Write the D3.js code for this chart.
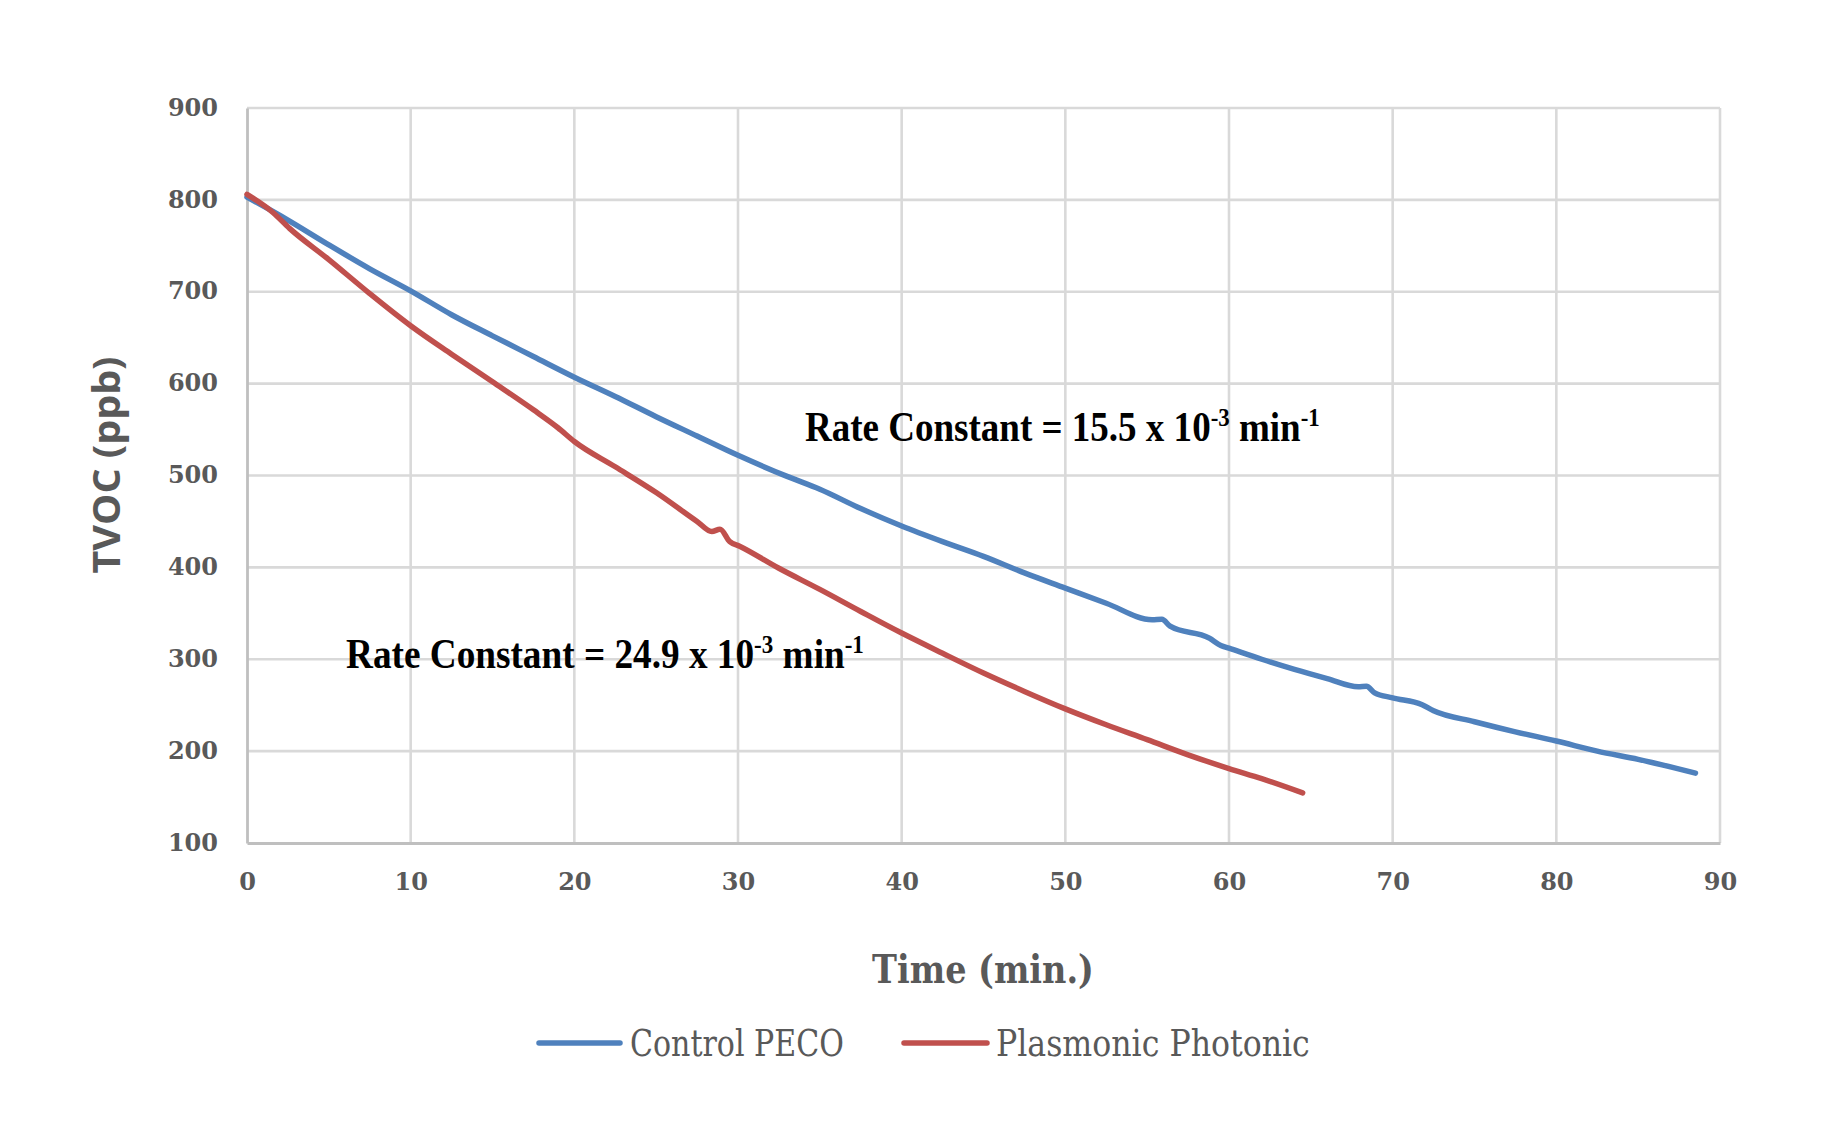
<!DOCTYPE html>
<html>
<head>
<meta charset="utf-8">
<script src="https://cdn.jsdelivr.net/npm/d3@7"></script>
<style>
  html, body { margin: 0; padding: 0; background: #fff; }
  svg { display: block; }
</style>
</head>
<body>
<svg id="chart" width="1846" height="1143"></svg>
<script>
// ---- data ----
const timeTicks = [0, 10, 20, 30, 40, 50, 60, 70, 80, 90];
const tvocTicks = [100, 200, 300, 400, 500, 600, 700, 800, 900];

const seriesNames = ["Control PECO", "Plasmonic Photonic"];
const seriesColors = ["#4F81BD", "#C0504D"];

const controlTime = [0, 2.5, 5, 7.5, 10, 12.5, 15, 17.5, 20, 22.5, 25, 27.5, 30, 33, 35, 37.5, 40, 42.5, 45, 47.5, 50, 52.5, 55.3, 55.9, 56.4, 58.8, 59.5, 60, 62, 64, 66, 67.9, 68.4, 68.9, 70, 71.8, 72.5, 75, 77.5, 80, 82.5, 85, 88.5];
const controlTVOC = [803, 778, 751, 725, 701, 675, 652, 629.5, 607, 586, 564, 543, 522, 499, 485, 464, 445, 428, 412, 394, 377.5, 361, 343, 343.5, 336, 323, 315, 312, 300, 289, 279, 270, 270.5, 263.5, 258, 250.5, 244, 232, 221, 211, 200, 191, 176];

const plasmonicTime = [0, 1.6, 2.6, 5, 7.5, 10, 12.5, 15, 17.5, 19, 20, 22.5, 25, 27.5, 28.4, 28.9, 29.5, 30.1, 32.5, 35, 37.5, 40, 42.5, 45, 47.5, 50, 52.5, 55, 57.5, 60, 62, 64.5];
const plasmonicTVOC = [806, 786, 769, 735, 698, 663, 632, 602, 571.5, 552, 537, 509.5, 481.5, 450, 439, 441.5, 428, 423, 399, 376, 352, 328.5, 306.5, 285, 265, 246, 228.7, 212.5, 196, 181, 170, 154.5];

const xTitle = "Time (min.)";
const yTitle = "TVOC (ppb)";
const rateLabels = [
  { main: "Rate Constant = 15.5 x 10", exp1: "-3", unit: " min", exp2: "-1" },
  { main: "Rate Constant = 24.9 x 10", exp1: "-3", unit: " min", exp2: "-1" }
];

// ---- layout ----
const svg = d3.select("#chart");
const plot = { left: 247, right: 1720, top: 108, bottom: 843 };
const x = d3.scaleLinear().domain([0, 90]).range([plot.left, plot.right]);
const y = d3.scaleLinear().domain([100, 900]).range([plot.bottom, plot.top]);

const gray = "#595959";
const serifBold = "'DejaVu Serif', serif";

// gridlines
const grid = svg.append("g");
grid.selectAll("line.v").data(timeTicks.filter(d => d > 0)).join("line")
  .attr("x1", d => x(d)).attr("x2", d => x(d))
  .attr("y1", plot.top).attr("y2", plot.bottom)
  .attr("stroke", "#d9d9d9").attr("stroke-width", 2.6);
grid.selectAll("line.h").data(tvocTicks.filter(d => d > 100)).join("line")
  .attr("x1", plot.left).attr("x2", plot.right)
  .attr("y1", d => y(d)).attr("y2", d => y(d))
  .attr("stroke", "#d9d9d9").attr("stroke-width", 2.6);

// axes
const xAxis = d3.axisBottom(x).tickValues(timeTicks).tickSize(0).tickPadding(0).tickFormat(d3.format("d"));
const yAxis = d3.axisLeft(y).tickValues(tvocTicks).tickSize(0).tickPadding(0).tickFormat(d3.format("d"));

const gx = svg.append("g").attr("transform", `translate(0,${plot.bottom})`).call(xAxis);
gx.select(".domain").attr("stroke", "#bfbfbf").attr("stroke-width", 2.8);
gx.selectAll("text").attr("y", 47).attr("dy", 0)
  .attr("font-family", serifBold).attr("font-weight", "bold")
  .attr("font-size", 24).attr("fill", gray);

const gy = svg.append("g").attr("transform", `translate(${plot.left},0)`).call(yAxis);
gy.select(".domain").attr("stroke", "#bfbfbf").attr("stroke-width", 2.8);
gy.selectAll("text").attr("x", -29).attr("dy", "0.3em")
  .attr("font-family", serifBold).attr("font-weight", "bold")
  .attr("font-size", 24).attr("fill", gray);

// lines
const line = d3.line().x(d => x(d[0])).y(d => y(d[1])).curve(d3.curveMonotoneX);
const series = [
  d3.zip(controlTime, controlTVOC),
  d3.zip(plasmonicTime, plasmonicTVOC)
];
svg.append("g").selectAll("path").data(series).join("path")
  .attr("d", line)
  .attr("fill", "none")
  .attr("stroke", (d, i) => seriesColors[i])
  .attr("stroke-width", 5.5)
  .attr("stroke-linejoin", "round")
  .attr("stroke-linecap", "round");

// helper to fit text width
function fit(textSel, tx, ty, targetW, anchor) {
  const w = textSel.node().getComputedTextLength();
  const s = targetW / w;
  textSel.attr("text-anchor", anchor || "start")
    .attr("transform", `translate(${tx},${ty}) scale(${s},1)`);
}

// axis titles
const xt = svg.append("text").text(xTitle)
  .attr("font-family", serifBold).attr("font-weight", "bold")
  .attr("font-size", 40).attr("fill", gray);
fit(xt, 983, 983, 222, "middle");

const yt = svg.append("text").text(yTitle)
  .attr("font-family", "'Open Sans', sans-serif").attr("font-weight", "bold")
  .attr("font-size", 38).attr("fill", gray)
  .attr("text-anchor", "middle");
{
  const w = yt.node().getComputedTextLength();
  yt.attr("transform", `translate(120,465) rotate(-90) scale(${217 / w},1)`);
}

// rate constant annotations
const rateAnchors = [[805, 441, 515], [346, 668, 518]];
rateLabels.forEach((r, i) => {
  const t = svg.append("text")
    .attr("font-family", "'Liberation Serif', 'Times New Roman', serif")
    .attr("font-weight", "bold").attr("font-size", 42).attr("fill", "#000");
  t.append("tspan").text(r.main);
  t.append("tspan").text(r.exp1).attr("font-size", 26).attr("dy", -15);
  t.append("tspan").text(r.unit).attr("dy", 15);
  t.append("tspan").text(r.exp2).attr("font-size", 26).attr("dy", -15);
  fit(t, rateAnchors[i][0], rateAnchors[i][1], rateAnchors[i][2], "start");
});

// legend
const legendItems = [
  { lx1: 539, lx2: 620, tx: 630, tw: 214 },
  { lx1: 904, lx2: 987, tx: 996, tw: 314 }
];
const legend = svg.append("g");
seriesNames.forEach((name, i) => {
  const it = legendItems[i];
  legend.append("line")
    .attr("x1", it.lx1).attr("x2", it.lx2).attr("y1", 1043).attr("y2", 1043)
    .attr("stroke", seriesColors[i]).attr("stroke-width", 5.5).attr("stroke-linecap", "round");
  const t = legend.append("text").text(name)
    .attr("font-family", serifBold).attr("font-size", 37).attr("fill", gray);
  fit(t, it.tx, 1056, it.tw, "start");
});
</script>
</body>
</html>
